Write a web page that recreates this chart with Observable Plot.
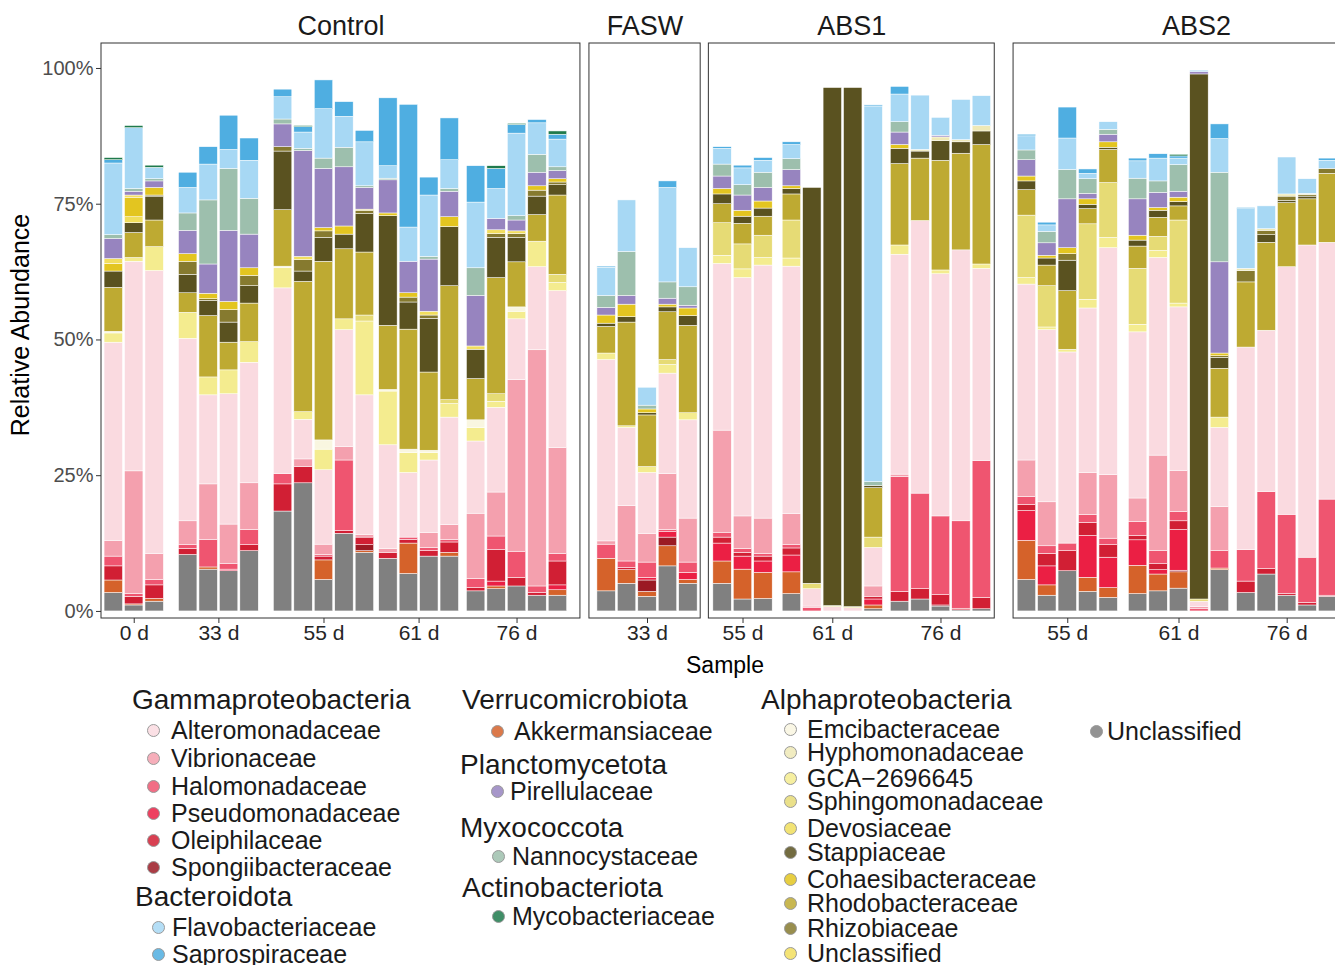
<!DOCTYPE html>
<html><head><meta charset="utf-8">
<script src="https://cdn.jsdelivr.net/npm/d3@7"></script>
<script src="https://cdn.jsdelivr.net/npm/@observablehq/plot@0.6"></script>
<style>
html,body{margin:0;padding:0;background:#fff;overflow:hidden;}
#wrap{position:relative;width:1335px;height:965px;overflow:hidden;font-family:"Liberation Sans",Arial,Helvetica,sans-serif;color:#1a1a1a;}
#wrap svg{max-width:none !important;}
.abs{position:absolute;white-space:nowrap;}
.leg{line-height:0.92;}
</style></head><body><div id="wrap"></div>
<script>
// ---------- DATA ----------
const panels = ["Control","FASW","ABS1","ABS2"];
const samplePanel = [
  ...Array(21).fill("Control"), ...Array(5).fill("FASW"), ...Array(13).fill("ABS1"), ...Array(15).fill("ABS2")
];
const sampleDay = [
  "0 d","0 d","0 d","33 d","33 d","33 d","33 d","55 d","55 d","55 d","55 d","55 d","61 d","61 d","61 d","61 d","76 d","76 d","76 d","76 d","76 d",
  "33 d","33 d","33 d","33 d","33 d",
  "55 d","55 d","55 d","61 d","61 d","61 d","61 d","61 d","76 d","76 d","76 d","76 d","76 d",
  "55 d","55 d","55 d","55 d","55 d","61 d","61 d","61 d","61 d","61 d","76 d","76 d","76 d","76 d","76 d"
];
// relative abundance (%) per family, one value per sample (Control | FASW | ABS1 | ABS2)
const unclassified = [3.4,1.1,1.8,10.4,7.7,7.4,11.1,18.4,23.6,5.8,14.3,10.8,9.7,6.9,10.1,10.1,3.7,4.1,4.6,2.9,2.9,
  3.7,5.1,2.7,8.3,5.1,
  5.1,2.2,2.3,3.2,0,0,0,0.4,1.8,2.2,0.9,0.2,0.4,
  5.8,2.9,7.4,3.6,2.5,3.2,3.7,4.2,0,7.6,3.4,6.8,2.9,1.1,2.7];
const akkermansiaceae = [2.3,0.2,0.5,0,0.4,0,0,0,0,3.6,0,0.3,0,5.6,0,0.7,0,0.5,0,0,1.0,
  6.0,2.5,0.9,3.7,0.7,
  4.1,5.5,4.8,4.0,0,0,0,0.7,0,0,0,0,0,
  7.2,1.9,0,2.6,1.8,5.2,3.1,3.0,0,0.3,0,0,0,0,0];
const spongiibacteraceae = [0,0,0,0,0,0,0,0,0,0,0,1.1,0,0,0,0,0,0,0,0,0,
  0,0,2.1,1.6,0,
  0,0,0,0,0,0,0,0,0,0,0.2,0,0,
  0,0,0,0,0,0,0,0.3,0,0,0,0,0,0,0];
const pseudomonadaceae = [0,0,0,0,0,0.3,0,0,0,0,0,0,0,0,0,0,0,0.9,0,0,0.9,
  0,0,0.5,1.0,1.3,
  3.3,2.4,2.1,3.1,0,0,0,1.1,0,0,0,0,0,
  5.5,3.5,0,7.7,5.6,4.7,0.8,7.5,0,0,0,0,0,0,0];
const oleiphilaceae = [2.6,1.4,2.5,1.1,0,0,1.1,5.0,3.0,0.7,0.5,1.4,1.1,0.7,1.0,1.9,0.6,5.8,1.6,0.5,4.4,
  0,0.4,0,0,0,
  1.1,0.7,0.9,1.3,0,0,0,0.5,1.8,1.9,1.9,0.3,2.1,
  1.1,2.3,3.7,2.4,2.3,0.8,1.1,1.6,0,0,2.1,1.0,0.3,0.5,0.2];
const halomonadaceae = [1.8,0.5,1.0,0.7,5.1,1.0,2.8,1.9,0,0.3,13.0,0,0,0.4,0.6,0.5,1.7,2.5,4.8,1.2,1.4,
  2.6,1.2,2.8,0.4,1.9,
  0.8,0.7,0.5,0.6,0.6,0,0,0,21.2,17.6,14.5,16.1,25.2,
  1.5,1.4,1.4,1.5,1.2,2.6,2.4,1.7,0.4,3.2,5.8,14.2,14.6,8.3,17.7];
const vibrionaceae = [2.9,22.6,4.8,4.4,10.2,7.3,8.6,0,1.4,1.9,2.5,0.5,0.7,0,2.7,2.7,12.0,8.1,31.6,43.5,19.5,
  0.6,10.2,5.3,10.3,8.1,
  18.9,6.0,6.5,5.7,0.3,0,0,1.9,0.4,0,0,0,0,
  6.7,8.1,0,7.7,11.7,4.3,17.6,7.6,0.4,8.1,0,0,0,0,0];
const alteromonadaceae = [36.5,38.6,52.1,33.6,16.4,24.0,22.2,34.2,7.3,13.7,21.5,25.7,19.1,11.9,13.4,19.8,13.3,15.6,11.2,15.3,28.9,
  33.4,14.4,11.2,18.5,18.1,
  30.7,43.9,46.6,45.6,3.2,0.8,0.6,7.1,40.5,50.2,44.6,49.9,35.4,
  32.4,31.7,35.2,30.3,41.8,30.6,36.4,30.1,1.0,14.6,37.3,29.7,45.6,57.5,47.3];
const gca2696645 = [1.7,0.7,4.4,4.8,3.3,4.4,3.8,3.7,1.4,3.8,2.0,13.6,9.9,3.7,1.4,2.5,2.5,1.1,1.4,4.7,1.5,
  1.2,0.3,1.1,1.6,1.3,
  1.5,1.6,1.4,1.5,0,0,0,0,1.7,0,0.7,0,0.8,
  1.2,0.5,0.5,1.6,1.9,1.4,1.3,0.7,0,1.9,0,0,0,0,0];
const emcibacteraceae = [0.3,0,0,0,0,0,0,0.3,0,1.7,0,0,0.3,0.6,0.4,0,1.4,0,0.8,0,0,
  0,0,0,0,0,
  0,0,0,0,0,0,0,0,0,0,0,0,0,
  0,0,0,0,0,0,0,0,0,0,0,0,0,0,0];
const sphingomonadaceae = [0,0,0,0,0,0,0,0,0,0,0,1.1,0,0,0,0.7,0,1.4,0,0,1.5,
  0,0,0,0.9,0,
  6.0,4.6,4.1,7.0,1.0,0.2,0.2,1.9,0,0,0,0,0,
  11.5,7.6,0,13.9,10.1,10.3,2.6,15.3,0.4,0,0,0,0,0,0];
const rhodobacteraceae = [8.1,4.6,4.9,3.6,11.3,5.1,7.1,10.4,24.0,32.9,12.9,11.6,11.8,22.1,14.4,21.0,7.6,21.4,8.3,4.9,14.6,
  4.9,19.1,9.5,8.8,16.1,
  3.5,3.8,3.5,4.8,0,0,0,9.1,15.0,11.5,20.2,17.8,22.0,
  4.7,3.8,10.8,2.8,6.1,4.1,3.5,2.6,0,9.0,12.0,16.2,11.8,8.5,12.7];
const stappiaceae = [3.0,1.8,4.4,3.4,2.8,3.7,3.2,10.8,1.9,4.4,2.7,7.1,20.2,5.0,9.9,10.9,5.4,7.4,4.5,3.4,1.9,
  0.6,1.0,0.4,0.9,1.8,
  1.8,1.3,1.5,1.0,72.9,95.4,95.6,0.4,2.8,1.3,3.6,2.1,2.5,
  1.6,1.3,5.6,0.8,0.4,1.1,1.3,0.8,96.7,2.0,0,1.4,0.4,0.5,0];
const rhizobiaceae = [0,0,0.2,2.4,0.3,2.3,1.9,0.8,2.1,1.2,0,0.6,0,0.9,0.6,0,0,0.7,0.7,1.1,0.5,
  0,0,0,0,0,
  0,0,0,0,0,0,0,0,0,0,0,0,0,
  0,0,1.2,0,0,0,0,0,0,0.3,2.1,0.8,0.8,0.3,0.9];
const hyphomonadaceae = [0,0,0,0,0,0,0,0,0,0,0,0,0,0,0,0,0,0,0,0,0,
  0,0,0,0,0,
  0,0,0,0,0,0,0,0,0,0.3,0.7,0.4,1.0,
  0,0,0,0,0,0,0,0,0,0,0.4,0.3,0.4,0.2,0];
const devosiaceae = [0,1.1,0,0,0,0,0,0,0,0,0,0,0,0,0,0,0,0,0,0,0,
  0,0,0,0,0,
  0,0,0,0,0,0,0,0,0,0,0,0,0,
  0,0,0,0,0,0,0,0,0,0,0,0,0,0,0];
const cohaesibacteraceae = [1.4,3.6,1.4,1.4,1.0,1.5,1.4,0,0,0.6,1.5,0,0.5,0.8,0,1.8,0,0,0,0.8,0.6,
  1.5,2.3,0.7,0.5,1.4,
  1.0,1.1,1.3,0.5,0,0,0,0,0.7,0,0,0,0,
  0.9,0.5,1.1,1.0,1.0,0.9,0.5,0.8,0,0.5,0,0,0,0,0];
const alphaUnclassified = [0.9,0.4,0,0,0,0,0,0,0.6,0,0,0.2,0,0,0.7,0,0.6,0.7,0.5,0,0,
  0,0,0,0,0,
  0,0,0,0,0,0,0,0,0,0,0,0,0,
  0,0,0,0,0,0,0,0,0,0,0,0,0,0,0];
const pirellulaceae = [3.7,0.7,1.2,4.3,5.4,13.1,6.2,4.2,19.5,10.9,10.9,4.0,6.1,5.8,9.6,4.7,9.3,2.1,2.0,2.5,1.5,
  1.4,1.6,0,1.1,0.5,
  2.3,2.8,2.5,3.0,0,0,0,0,2.3,0,0.3,0,0,
  3.0,2.3,9.0,1.0,1.4,6.7,2.8,1.1,0.4,16.8,0,0,0,0,0];
const nannocystaceae = [0.7,0.5,0.4,3.2,11.8,11.4,6.6,0.9,0.4,1.9,3.6,0.3,0.3,0,0.5,0.5,5.1,0,0.8,3.3,0.7,
  2.2,8.1,0.7,3.0,3.4,
  2.2,1.9,2.8,2.0,0,0,0,0.7,1.9,0,0,0,0,
  1.8,2.1,5.4,2.7,0.9,3.8,2.1,4.9,0,16.5,0,0,0,0,0];
const flavobacteriaceae = [13.2,11.2,2.1,4.7,6.6,3.5,7.0,4.1,3.0,9.1,5.7,8.1,2.3,6.3,11.3,5.3,12.1,5.5,15.2,5.8,5.1,
  5.2,9.5,3.3,17.4,7.2,
  2.9,3.1,2.2,2.6,0,0,0,69.2,5.1,10.0,3.3,7.4,5.5,
  2.6,1.2,5.8,1.0,1.4,3.2,4.2,1.2,0.3,6.2,11.0,4.2,6.8,2.7,1.5];
const saprospiraceae = [0.6,0,0,2.8,3.2,6.3,4.1,1.4,1.0,5.3,2.7,2.1,12.5,22.6,3.3,7.7,6.7,3.7,1.6,0.6,0.9,
  0.2,0,0,1.2,0,
  0.3,0.5,0.5,0.5,0,0,0,0.2,1.4,0,0,0,0,
  0.3,0.5,5.7,0.8,0,0.5,0.8,0.4,0,2.7,0.2,0,0,0,0.4];
const mycobacteriaceae = [0.4,0.4,0.4,0,0,0,0,0,0.2,0,0,0,0,0,0,0,0,0.5,0.2,0,0.6,
  0,0,0,0,0,
  0,0,0,0,0,0,0,0,0,0,0,0,0,
  0,0,0,0,0,0,0,0.3,0,0,0,0,0,0,0];

// stacking order, bottom -> top: [key, label, colour, values]
const familyStack = [
  ["Unclassified","Unclassified","#808080",unclassified],
  ["Akkermansiaceae","Akkermansiaceae","#d5622a",akkermansiaceae],
  ["Spongiibacteraceae","Spongiibacteraceae","#9b1a24",spongiibacteraceae],
  ["Pseudomonadaceae","Pseudomonadaceae","#eb1f44",pseudomonadaceae],
  ["Oleiphilaceae","Oleiphilaceae","#d11f34",oleiphilaceae],
  ["Halomonadaceae","Halomonadaceae","#ef5570",halomonadaceae],
  ["Vibrionaceae","Vibrionaceae","#f4a0ae",vibrionaceae],
  ["Alteromonadaceae","Alteromonadaceae","#fadae0",alteromonadaceae],
  ["GCA-2696645","GCA\u22122696645","#f4ec8f",gca2696645],
  ["Emcibacteraceae","Emcibacteraceae","#f9f6e0",emcibacteraceae],
  ["Sphingomonadaceae","Sphingomonadaceae","#e6db75",sphingomonadaceae],
  ["Rhodobacteraceae","Rhodobacteraceae","#beaa32",rhodobacteraceae],
  ["Stappiaceae","Stappiaceae","#5a5220",stappiaceae],
  ["Rhizobiaceae","Rhizobiaceae","#867a2f",rhizobiaceae],
  ["Hyphomonadaceae","Hyphomonadaceae","#efe9b6",hyphomonadaceae],
  ["Devosiaceae","Devosiaceae","#f0de5c",devosiaceae],
  ["Cohaesibacteraceae","Cohaesibacteraceae","#e3c520",cohaesibacteraceae],
  ["Alpha Unclassified","Unclassified","#f2de5e",alphaUnclassified],
  ["Pirellulaceae","Pirellulaceae","#9784bf",pirellulaceae],
  ["Nannocystaceae","Nannocystaceae","#9dbfad",nannocystaceae],
  ["Flavobacteriaceae","Flavobacteriaceae","#a7d8f4",flavobacteriaceae],
  ["Saprospiraceae","Saprospiraceae","#4faee1",saprospiraceae],
  ["Mycobacteriaceae","Mycobacteriaceae","#1f7a4c",mycobacteriaceae]
];

const legendGroups = [
  ["Gammaproteobacteria", ["Alteromonadaceae","Vibrionaceae","Halomonadaceae","Pseudomonadaceae","Oleiphilaceae","Spongiibacteraceae"]],
  ["Bacteroidota", ["Flavobacteriaceae","Saprospiraceae"]],
  ["Verrucomicrobiota", ["Akkermansiaceae"]],
  ["Planctomycetota", ["Pirellulaceae"]],
  ["Myxococcota", ["Nannocystaceae"]],
  ["Actinobacteriota", ["Mycobacteriaceae"]],
  ["Alphaproteobacteria", ["Emcibacteraceae","Hyphomonadaceae","GCA-2696645","Sphingomonadaceae","Devosiaceae","Stappiaceae","Cohaesibacteraceae","Rhodobacteraceae","Rhizobiaceae","Alpha Unclassified"]],
  ["", ["Unclassified"]]
];

// ---------- LAYOUT (styles / spacing only) ----------
const U = 20.45, X0 = 101;
const panelLayout = {
  Control: {before: 0,    padL: 0.10, padR: 0.60, gaps: [0.64,0.64,0.15,0.29]},
  FASW:    {before: 0.44, padL: 0.34, padR: 0.10, gaps: []},
  ABS1:    {before: 0.40, padL: 0.17, padR: 0.13, gaps: [0.39,0.29]},
  ABS2:    {before: 0.92, padL: 0.15, padR: 2.00, gaps: [0.44,0.29]}
};
const legendLayout = [
  {hx:132, hy:700, cx:153, tx:171, ys:[730,758,786,813,840,867]},
  {hx:135, hy:897, cx:158, tx:172, ys:[927,954]},
  {hx:462, hy:700, cx:497, tx:514, ys:[731]},
  {hx:460, hy:765, cx:497, tx:510, ys:[791]},
  {hx:460, hy:828, cx:498, tx:512, ys:[856]},
  {hx:462, hy:888, cx:498, tx:512, ys:[916]},
  {hx:761, hy:700, cx:790, tx:807, ys:[729,752,778,801,828,852,879,903,928,953]},
  {hx:null, hy:null, cx:1096, tx:1107, ys:[731]}
];

// ---------- BUILD ----------
const slot = [];
const panelExt = [];
const ticks = [];
let cursor = 0;
for (const p of panels) {
  const L = panelLayout[p];
  cursor += L.before;
  const start = cursor;
  cursor += L.padL;
  let prevDay = null, gStart = null, gi = 0;
  sampleDay.forEach((day, i) => {
    if (samplePanel[i] !== p) return;
    if (prevDay !== null && day !== prevDay) {
      ticks.push({x: (gStart + cursor) / 2, label: prevDay});
      cursor += L.gaps[gi++];
    }
    if (day !== prevDay) gStart = cursor;
    slot[i] = cursor;
    cursor += 1;
    prevDay = day;
  });
  ticks.push({x: (gStart + cursor) / 2, label: prevDay});
  cursor += L.padR;
  panelExt.push({panel: p, x1: start, x2: cursor});
}
const total = cursor;

const segments = [];
slot.forEach((s, i) => {
  let cum = 0;
  for (const [key, , , vals] of familyStack) {
    const v = vals[i];
    if (v > 0) {
      segments.push({family: key, x1: s + 0.05, x2: s + 0.95, y1: cum, y2: cum + v});
      cum += v;
    }
  }
});

const yLo = -1.3, yHi = 104.6;
const width = Math.ceil(X0 + total * U) + 4;
const tickLabel = new Map(ticks.map(t => [t.x, t.label]));

const chart = Plot.plot({
  width, height: 650,
  marginLeft: X0, marginTop: 43, marginBottom: 32, marginRight: width - (X0 + total * U),
  x: {type: "linear", domain: [0, total], range: [X0, X0 + total * U], label: null},
  y: {domain: [yLo, yHi], range: [618, 43], label: null},
  color: {type: "ordinal", domain: familyStack.map(d => d[0]), range: familyStack.map(d => d[2])},
  style: {fontFamily: '"Liberation Sans", Arial, Helvetica, sans-serif', background: "white", maxWidth: "none", overflow: "visible"},
  marks: [
    Plot.rect(segments, {x1: "x1", x2: "x2", y1: "y1", y2: "y2", fill: "family", stroke: "white", strokeWidth: 0.5}),
    Plot.rect(panelExt, {x1: "x1", x2: "x2", y1: yLo, y2: yHi, fill: "none", stroke: "#333333", strokeWidth: 1}),
    Plot.axisY({ticks: [0, 25, 50, 75, 100], tickFormat: d => d + "%", tickSize: 5, tickPadding: 3, fontSize: 20, fill: "#4d4d4d", stroke: "#333333", label: null}),
    Plot.axisX({ticks: ticks.map(t => t.x), tickFormat: d => tickLabel.get(d), tickSize: 5, tickPadding: 2, fontSize: 21, fill: "#262626", stroke: "#333333", label: null}),
    Plot.text(panelExt, {x: d => (d.x1 + d.x2) / 2, y: yHi, text: "panel", dy: -17, fontSize: 27, fill: "#1a1a1a"})
  ]
});
chart.style.maxWidth = "none";
const wrap = document.getElementById("wrap");
wrap.appendChild(chart);

function addText(txt, left, top, size, extra = "", cls = "abs") {
  const d = document.createElement("div");
  d.className = cls;
  d.textContent = txt;
  d.style.cssText += `left:${left}px;top:${top}px;font-size:${size}px;${extra}`;
  wrap.appendChild(d);
  return d;
}
addText("Relative Abundance", 20, 325, 25, "transform:translate(-50%,-50%) rotate(-90deg);color:#000;");
addText("Sample", 725, 665, 23, "transform:translate(-50%,-50%);color:#000;");

const famInfo = new Map(familyStack.map(d => [d[0], d]));
legendGroups.forEach(([phylum, fams], gi) => {
  const L = legendLayout[gi];
  if (phylum) addText(phylum, L.hx, L.hy, 28, "transform:translateY(-50%);color:#1a1a1a;", "abs leg");
  fams.forEach((f, j) => {
    const info = famInfo.get(f);
    const y = L.ys[j];
    const c = d3.color(info[2]); c.opacity = 0.85;
    const dot = document.createElement("div");
    dot.className = "abs";
    dot.style.cssText = `left:${L.cx - 6.5}px;top:${y - 6.5}px;width:13px;height:13px;border-radius:50%;background:${c.formatRgb()};border:1px solid #9a9a9a;box-sizing:border-box;`;
    wrap.appendChild(dot);
    addText(info[1], L.tx, y, 25, "transform:translateY(-50%);color:#1a1a1a;", "abs leg");
  });
});
</script>
</body></html>
